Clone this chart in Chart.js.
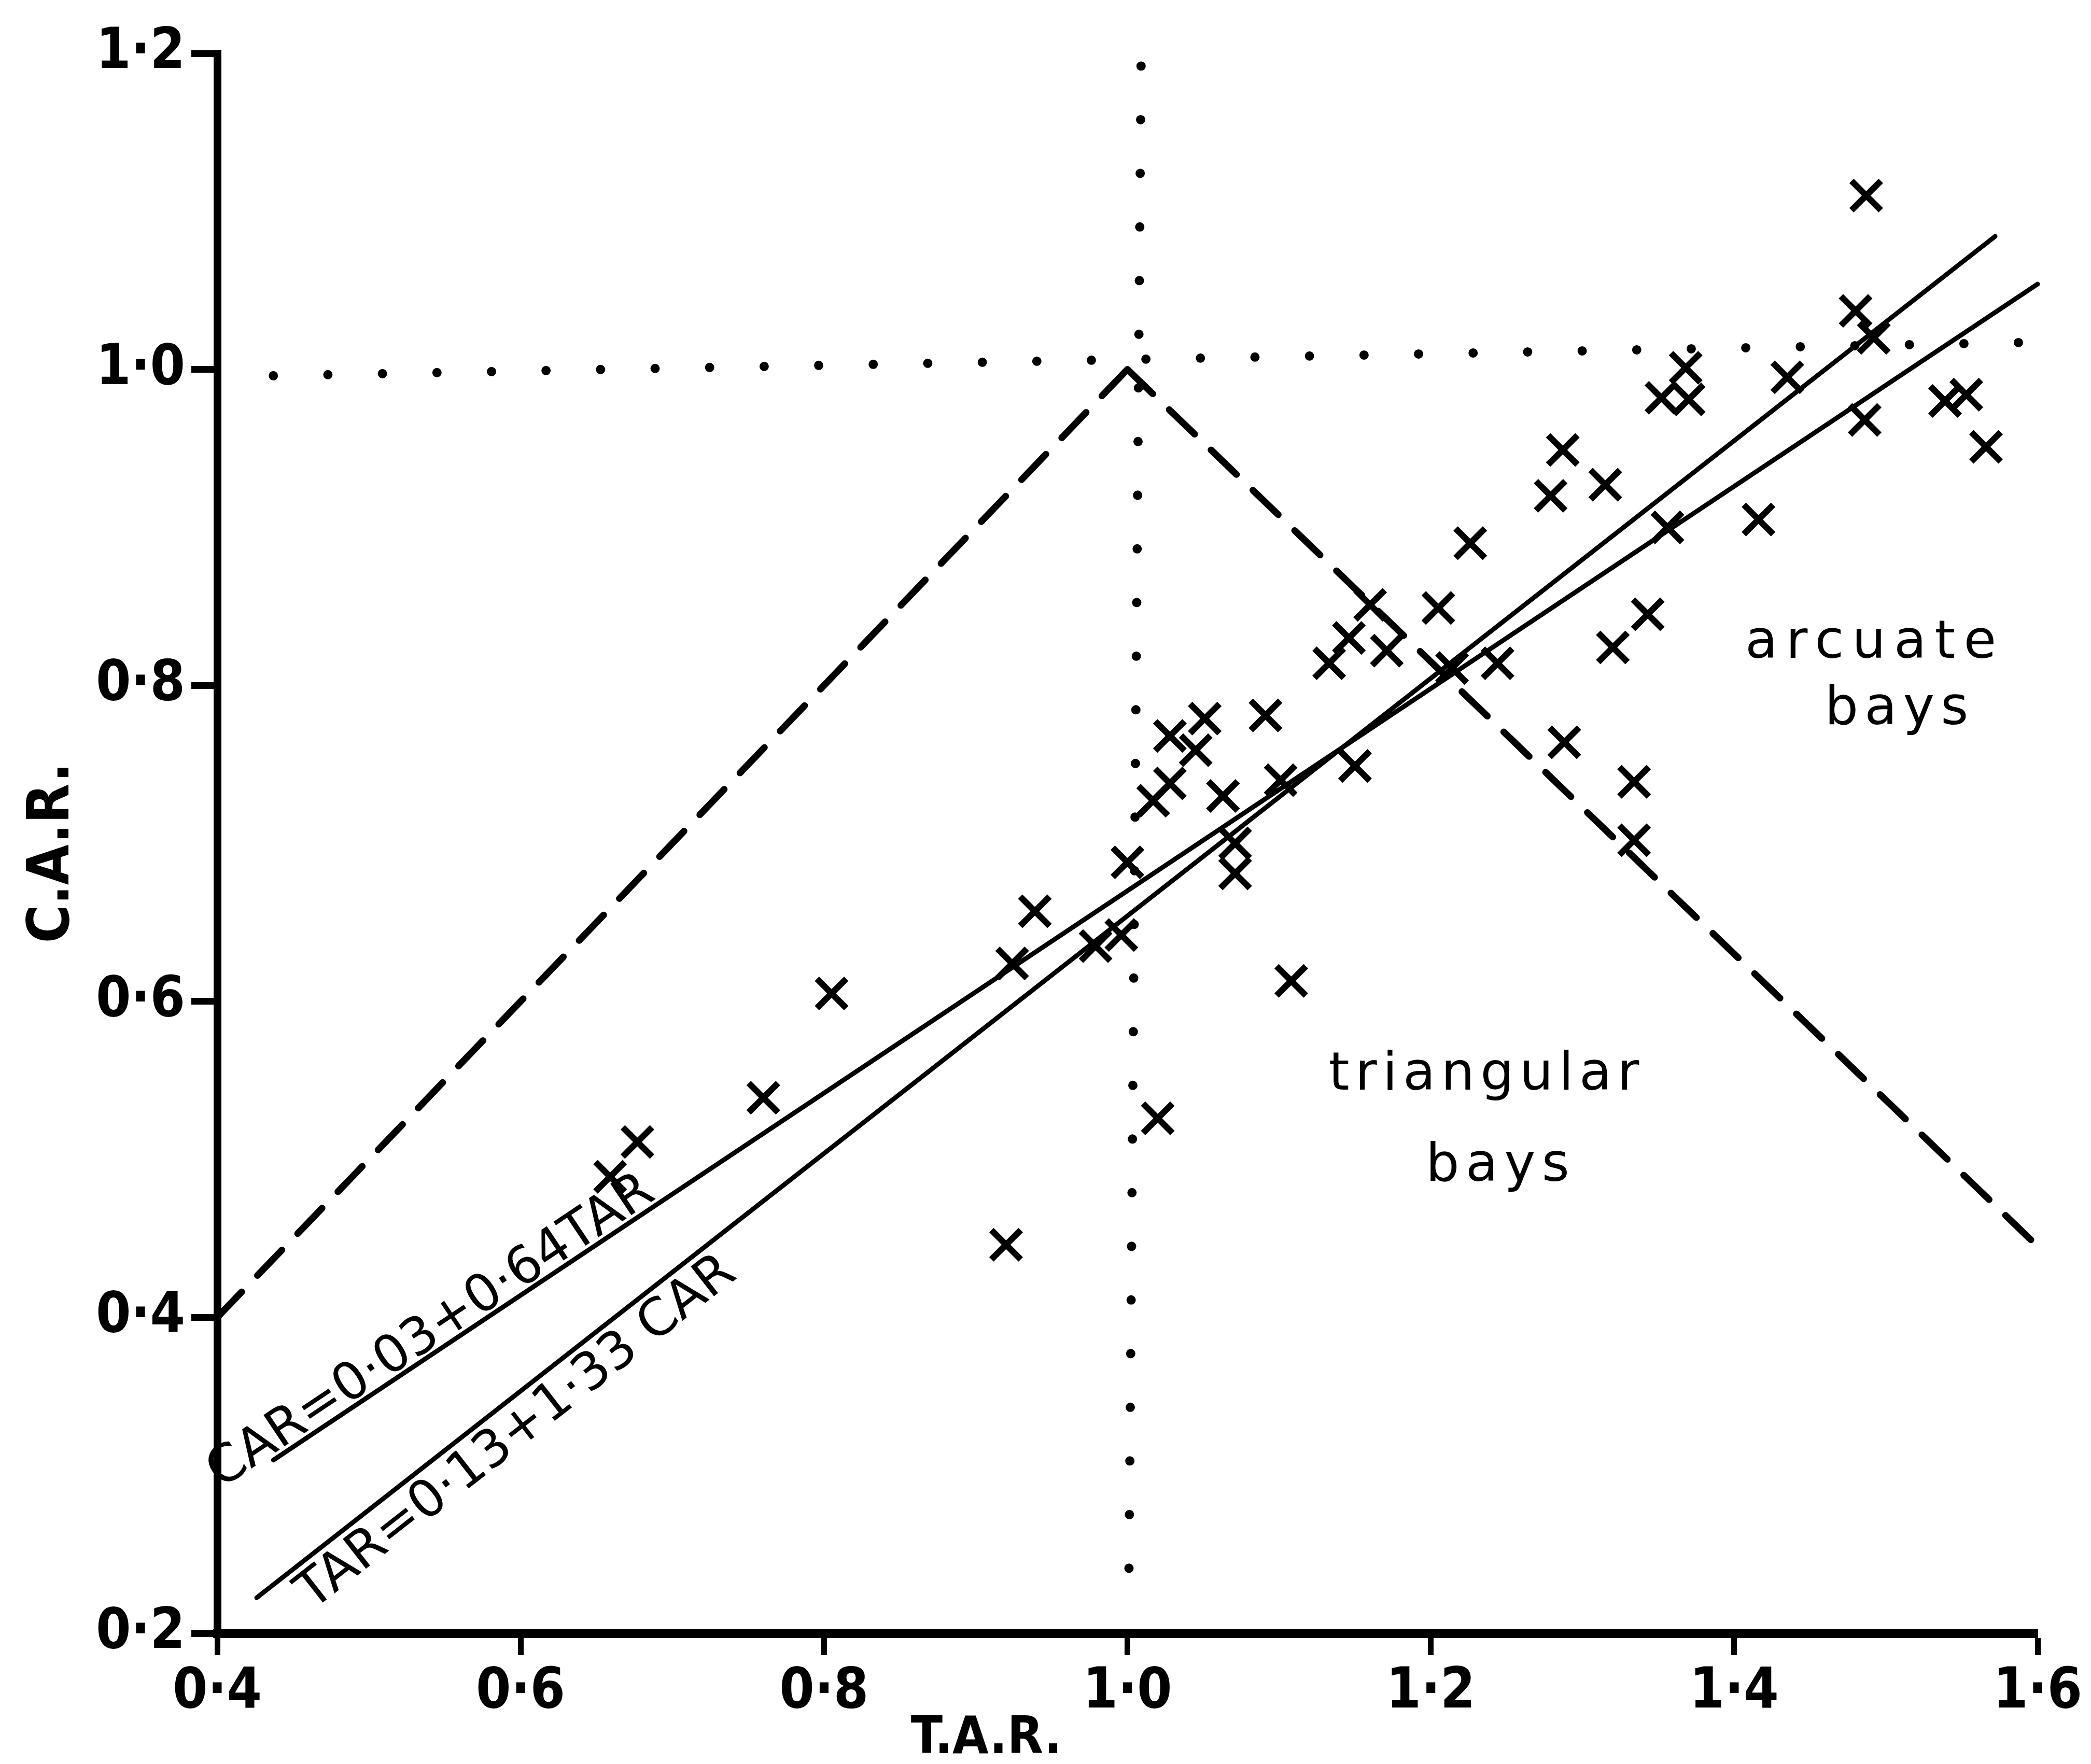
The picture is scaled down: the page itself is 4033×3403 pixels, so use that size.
<!DOCTYPE html>
<html>
<head>
<meta charset="utf-8">
<script src="https://cdn.jsdelivr.net/npm/chart.js@4.4.1/dist/chart.umd.min.js"></script>
<style>
  html, body { margin: 0; padding: 0; background: #fff; }
  canvas { display: block; }
</style>
</head>
<body>
<canvas id="chart" width="4033" height="3403"></canvas>
<script>
// Axis ticks
const xTickValues = [0.4, 0.6, 0.8, 1.0, 1.2, 1.4, 1.6];
const xTickLabels = ['0·4', '0·6', '0·8', '1·0', '1·2', '1·4', '1·6'];
const yTickValues = [0.2, 0.4, 0.6, 0.8, 1.0, 1.2];
const yTickLabels = ['0·2', '0·4', '0·6', '0·8', '1·0', '1·2'];

// Measured bays: T.A.R. against C.A.R.
const bayTar = [1.487, 1.480, 1.492, 1.435, 1.352, 1.368, 1.370, 1.486, 1.539, 1.553,
                1.566, 1.287, 1.279, 1.315, 1.226, 1.356, 1.416, 1.205, 1.160, 1.146,
                1.133, 1.171, 1.244, 1.320, 1.343, 1.091, 1.051, 1.028, 1.045, 1.028,
                1.017, 1.063, 1.101, 1.150, 1.288, 1.334, 1.334, 1.071, 1.071, 1.000,
                0.996, 0.979, 0.939, 0.924, 1.108, 0.805, 0.760, 1.020, 0.677, 0.659,
                0.920, 1.214];
const bayCar = [1.110, 1.037, 1.020, 0.995, 0.982, 1.001, 0.981, 0.968, 0.980, 0.984,
                0.951, 0.949, 0.920, 0.927, 0.890, 0.900, 0.905, 0.849, 0.851, 0.830,
                0.814, 0.822, 0.814, 0.824, 0.845, 0.781, 0.779, 0.768, 0.759, 0.738,
                0.727, 0.730, 0.740, 0.749, 0.764, 0.739, 0.702, 0.700, 0.681, 0.688,
                0.642, 0.635, 0.657, 0.624, 0.613, 0.605, 0.539, 0.526, 0.511, 0.489,
                0.446, 0.811];

// Regression fits: CAR = a + b·TAR, and TAR = c + d·CAR (intercept, slope), with drawn TAR range
const fitCarOnTar = [0.03, 0.64];
const fitCarOnTarRange = [0.437, 1.600];
const fitTarOnCar = [0.13, 1.33];
const fitTarOnCarRange = [0.426, 1.572];

// Dashed boundaries between bay types, as [TAR, CAR] end points
const boundaryLeft = [[0.40, 0.40], [1.00, 1.00]];
const boundaryRight = [[1.00, 1.00], [1.60, 0.445]];

// Dotted reference lines at TAR = 1 and CAR = 1
const refTarOne = [[1.009, 1.192], [1.001, 0.238]];
const refCarOne = [[0.437, 0.996], [1.590, 1.017]];

const carFromTar = t => fitCarOnTar[0] + fitCarOnTar[1] * t;
const carFromTarInv = t => (t - fitTarOnCar[0]) / fitTarOnCar[1];

const toPts = arr => arr.map(p => ({ x: p[0], y: p[1] }));

const AXIS_FONT = "'Liberation Sans Narrow', 'DejaVu Sans Condensed', 'DejaVu Sans', sans-serif";
const TEXT_FONT = "'DejaVu Sans', sans-serif";

// Text placed on the plot (in data units)
const regionText = [
  { text: 'arcuate',    tar: 1.490, car: 0.826, spacing: 16 },
  { text: 'bays',       tar: 1.507, car: 0.784, spacing: 12 },
  { text: 'triangular', tar: 1.235, car: 0.553, spacing: 11 },
  { text: 'bays',       tar: 1.244, car: 0.495, spacing: 12 }
];
const equationText = [
  { text: 'CAR=0·03+0·64TAR', fit: carFromTar, tar: 0.548, side: -1 },
  { text: 'TAR=0·13+1·33 CAR', fit: carFromTarInv, tar: 0.585, side: 1 }
];

const annotate = {
  id: 'annotate',
  afterDatasetsDraw(chart) {
    const { ctx, chartArea, scales: { x, y } } = chart;
    ctx.save();
    ctx.fillStyle = '#000';

    // region names
    ctx.font = '102px ' + TEXT_FONT;
    ctx.textAlign = 'center';
    ctx.textBaseline = 'middle';
    regionText.forEach(r => {
      ctx.letterSpacing = r.spacing + 'px';
      ctx.fillText(r.text, x.getPixelForValue(r.tar) + r.spacing / 2, y.getPixelForValue(r.car));
    });

    // regression equations written along their lines
    ctx.letterSpacing = '0px';
    ctx.font = '100px ' + TEXT_FONT;
    equationText.forEach(e => {
      const x0 = x.getPixelForValue(0.5), y0 = y.getPixelForValue(e.fit(0.5));
      const x1 = x.getPixelForValue(1.5), y1 = y.getPixelForValue(e.fit(1.5));
      const ang = Math.atan2(y1 - y0, x1 - x0);
      const px = x.getPixelForValue(e.tar), py = y.getPixelForValue(e.fit(e.tar));
      ctx.save();
      ctx.translate(px, py);
      ctx.rotate(ang);
      ctx.textAlign = 'center';
      ctx.textBaseline = 'alphabetic';
      ctx.fillText(e.text, 0, e.side < 0 ? -10 : 86);
      ctx.restore();
    });

    // axis titles
    ctx.font = 'bold 100px ' + AXIS_FONT;
    ctx.textAlign = 'center';
    ctx.textBaseline = 'middle';
    ctx.fillText('T.A.R.', x.getPixelForValue(0.907), chartArea.bottom + 205);
    ctx.font = 'bold 112px ' + AXIS_FONT;
    ctx.save();
    ctx.translate(103, y.getPixelForValue(0.694));
    ctx.rotate(-Math.PI / 2);
    ctx.fillText('C.A.R.', 0, 0);
    ctx.restore();

    ctx.restore();
  }
};

const lineDs = (data, width, dash) => ({
  type: 'scatter',
  data,
  showLine: true,
  borderColor: '#000',
  backgroundColor: '#000',
  borderWidth: width,
  borderDash: dash,
  borderCapStyle: 'round',
  pointRadius: 0,
  pointHoverRadius: 0,
  clip: false,
  order: 2
});

new Chart(document.getElementById('chart'), {
  type: 'scatter',
  data: {
    datasets: [
      {
        label: 'bays',
        data: bayTar.map((t, i) => ({ x: t, y: bayCar[i] })),
        pointStyle: 'crossRot',
        pointRadius: 40,
        pointHoverRadius: 40,
        borderWidth: 12,
        borderColor: '#000',
        backgroundColor: '#000',
        clip: false,
        order: 1
      },
      lineDs(fitCarOnTarRange.map(t => ({ x: t, y: carFromTar(t) })), 9, []),
      lineDs(fitTarOnCarRange.map(t => ({ x: t, y: carFromTarInv(t) })), 9, []),
      lineDs(toPts(boundaryLeft), 13, [68, 44]),
      lineDs(toPts(boundaryRight), 13, [68, 44]),
      lineDs(toPts(refTarOne), 18, [0, 103.5]),
      lineDs(toPts(refCarOne), 18, [0, 105.2])
    ]
  },
  options: {
    responsive: false,
    devicePixelRatio: 1,
    animation: false,
    events: [],
    layout: { padding: { left: 0, right: 103, top: 103, bottom: 0 } },
    plugins: { legend: { display: false }, tooltip: { enabled: false } },
    scales: {
      x: {
        type: 'linear',
        min: 0.4,
        max: 1.6,
        afterBuildTicks: s => { s.ticks = xTickValues.map(v => ({ value: v })); },
        afterFit: s => { s.height = 252; },
        border: { display: true, color: '#000', width: 17 },
        grid: { drawOnChartArea: false, drawTicks: true, tickLength: 42, tickWidth: 11, tickColor: '#000' },
        ticks: {
          autoSkip: false,
          maxRotation: 0,
          padding: 8,
          color: '#000',
          font: { family: AXIS_FONT, size: 108, weight: 'bold' },
          callback: (v, i) => xTickLabels[i]
        }
      },
      y: {
        type: 'linear',
        min: 0.2,
        max: 1.2,
        afterBuildTicks: s => { s.ticks = yTickValues.map(v => ({ value: v })); },
        afterFit: s => { s.width = 419; },
        border: { display: true, color: '#000', width: 15 },
        grid: { drawOnChartArea: false, drawTicks: true, tickLength: 50, tickWidth: 13, tickColor: '#000' },
        ticks: {
          autoSkip: false,
          padding: 12,
          color: '#000',
          font: { family: AXIS_FONT, size: 108, weight: 'bold' },
          callback: (v, i) => yTickLabels[i]
        }
      }
    }
  },
  plugins: [annotate]
});
</script>
</body>
</html>
